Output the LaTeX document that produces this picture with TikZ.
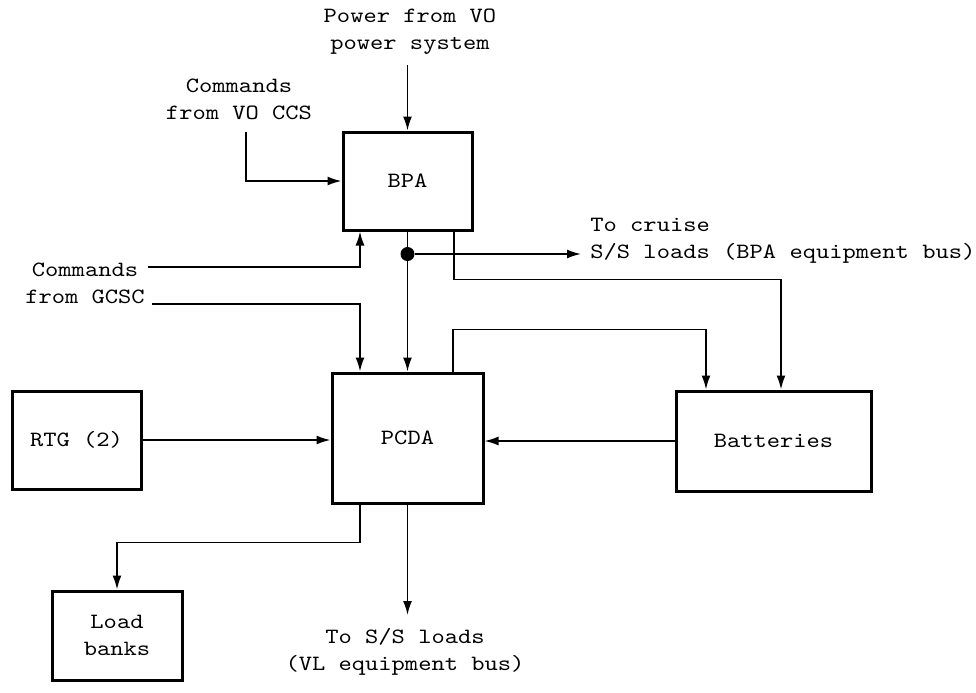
\documentclass[tikz,border=0pt]{standalone}
\usepackage{fontspec}
\setmonofont[FakeStretch=1.16]{lmmono10-regular.otf}
\usepackage{tikz}
\usetikzlibrary{arrows.meta}

\begin{document}
\begin{tikzpicture}[
    x=0.5pt, y=-0.5pt,
    font=\ttfamily\fontsize{10.9}{13.5}\selectfont,
    unit/.style={rectangle, draw, line width=1.5pt, minimum width=64.5pt, minimum height=49pt, align=center},
    lbl/.style={align=center, inner sep=0pt},
    dot/.style={circle, fill, inner sep=0pt, minimum size=7pt},
    arrow/.style={-{Latex[length=7pt,width=4.5pt]}, line width=0.9pt},
    wire/.style={line width=0.9pt}
]
\useasboundingbox (0,0) rectangle (976,692);

% units
\node[unit] (bpa) at (407.5,181) {BPA};
\node[unit, minimum width=75.5pt, minimum height=65pt] (pcda) at (407.5,438) {PCDA};
\node[unit, minimum width=97.5pt, minimum height=50pt] (bat) at (773.5,441) {Batteries};
\node[unit] (rtg) at (76.5,440) {RTG (2)};
\node[unit, minimum width=65pt, minimum height=44.5pt] (load) at (117,635.5) {Load\\banks};

% outside sources and loads
\node[lbl] (power) at (410,32) {Power from VO\\power system};
\node[lbl] (ccs) at (239,99) {Commands\\from VO CCS};
\node[lbl] (gcsc) at (85,283) {Commands\\from GCSC};
\node[lbl, align=left, anchor=west] (cruise) at (590,240.5) {To cruise\\S/S loads (BPA equipment bus)};
\node[lbl] (vl) at (405,652) {To S/S loads\\(VL equipment bus)};

\coordinate (powerin) at (407.5,65);
\coordinate (ccsin) at (246,132);
\coordinate (gcsc1) at (148,267);
\coordinate (gcsc2) at (152,304);
\coordinate (cruisein) at (581,254);
\coordinate (vlin) at (407.5,615);
\node[dot] (junc) at (407.5,254) {};

% connections
\draw[arrow] (powerin) -- (bpa);
\draw[arrow] (ccsin) |- (bpa.west);
\draw[arrow] (gcsc1) -| ([xshift=-23.75pt]bpa.south);
\draw[arrow] (gcsc2) -| ([xshift=-23.75pt]pcda.north);
\draw[wire] (bpa.south) -- (junc);
\draw[arrow] (junc) -- (pcda);
\draw[arrow] (junc) -- (cruisein);
\draw[arrow] ([xshift=23.25pt]bpa.south) -- ++(0,48) -| ([xshift=3.75pt]bat.north);
\draw[arrow] ([xshift=22.75pt]pcda.north) -- ++(0,-42) -| ([xshift=-33.75pt]bat.north);
\draw[arrow] (bat.west) -- (bat.west -| pcda.east);
\draw[arrow] (rtg.east) -- (rtg.east -| pcda.west);
\draw[arrow] ([xshift=-23.75pt]pcda.south) -- ++(0,38) -| (load.north);
\draw[arrow] (pcda.south) -- (vlin);

\end{tikzpicture}
\end{document}
